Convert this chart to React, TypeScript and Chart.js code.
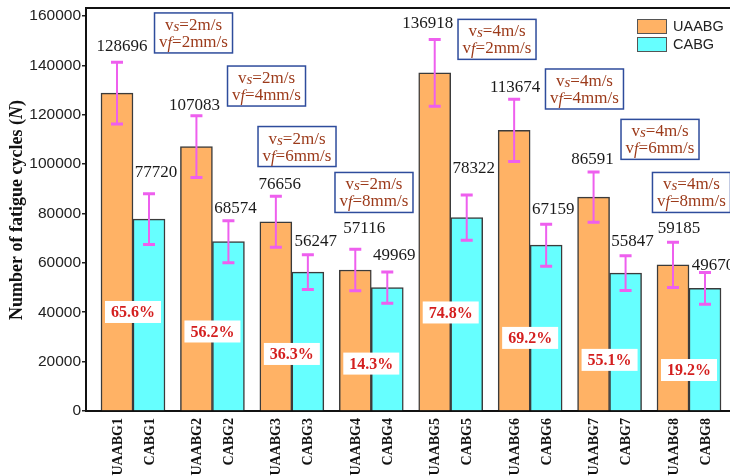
import React, { useEffect, useRef } from 'react';
import { Chart, registerables } from 'chart.js';
Chart.register(...registerables);

// ---- data ----
const groupIndex = [1, 2, 3, 4, 5, 6, 7, 8];
const uaabgLabels = ['UAABG1', 'UAABG2', 'UAABG3', 'UAABG4', 'UAABG5', 'UAABG6', 'UAABG7', 'UAABG8'];
const cabgLabels = ['CABG1', 'CABG2', 'CABG3', 'CABG4', 'CABG5', 'CABG6', 'CABG7', 'CABG8'];
const uaabgValues = [128696, 107083, 76656, 57116, 136918, 113674, 86591, 59185];
const cabgValues = [77720, 68574, 56247, 49969, 78322, 67159, 55847, 49670];
const uaabgErrors = [12500, 12500, 10300, 8400, 13500, 12600, 10200, 9200];
const cabgErrors = [10300, 8500, 7000, 6300, 9200, 8500, 7000, 6400];
const increasePct = ['65.6%', '56.2%', '36.3%', '14.3%', '74.8%', '69.2%', '55.1%', '19.2%'];
const vsValues = ['2', '2', '2', '2', '4', '4', '4', '4'];
const vfValues = ['2', '4', '6', '8', '2', '4', '6', '8'];
const yTickValues = [0, 20000, 40000, 60000, 80000, 100000, 120000, 140000, 160000];
const seriesNames = ['UAABG', 'CABG'];

// ---- layout (annotation positions) ----
const valueLabelYUaabg = [145800, 121900, 89900, 72100, 155100, 129200, 100100, 72100];
const valueLabelYCabg = [94800, 80200, 66800, 61200, 96400, 79800, 66800, 57100];
const valueLabelDxUaabg = [5, -2, 4, 9, -7, 1, -1, 6];
const valueLabelDxCabg = [7, 7, 8, 7, 7, 7, 7, 8];
const pctBoxY = [40100, 32200, 23100, 19200, 39900, 29600, 20700, 16600];
const noteBoxX = [1.762, 2.681, 3.065, 4.034, 5.583, 6.684, 7.635, 8.031];
const noteBoxY = [153100, 131600, 107100, 88500, 150500, 130400, 110000, 88500];

// ---- styles ----
const ORANGE = '#FFB265';
const CYAN = '#66FFFF';
const ERR = '#EE5FEE';
const SERIF = '"Liberation Serif", "Times New Roman", serif';
const SANS = '"Liberation Sans", Arial, sans-serif';

type Seg = { text: string; font: string; dy?: number };

function drawRich(ctx: CanvasRenderingContext2D, segs: Seg[], cx: number, baseline: number) {
  let total = 0;
  const widths: number[] = [];
  segs.forEach((s) => {
    ctx.font = s.font;
    const w = ctx.measureText(s.text).width;
    widths.push(w);
    total += w;
  });
  let x = cx - total / 2;
  ctx.textAlign = 'left';
  ctx.textBaseline = 'alphabetic';
  segs.forEach((s, i) => {
    ctx.font = s.font;
    ctx.fillText(s.text, x, baseline + (s.dy || 0));
    x += widths[i];
  });
}

const overlayPlugin = {
  id: 'overlay',
  afterDatasetsDraw(chart: any) {
    const { ctx, chartArea, scales } = chart;
    const xs = scales.x;
    const ys = scales.y;
    ctx.save();

    // top frame line
    ctx.strokeStyle = '#111';
    ctx.lineWidth = 2;
    ctx.beginPath();
    ctx.moveTo(chartArea.left - 1, chartArea.top);
    ctx.lineTo(chartArea.right + 10, chartArea.top);
    ctx.stroke();

    const series = [
      { vals: uaabgValues, errs: uaabgErrors, labY: valueLabelYUaabg, dx: valueLabelDxUaabg, names: uaabgLabels },
      { vals: cabgValues, errs: cabgErrors, labY: valueLabelYCabg, dx: valueLabelDxCabg, names: cabgLabels },
    ];

    // error bars
    series.forEach((s, d) => {
      const meta = chart.getDatasetMeta(d);
      meta.data.forEach((bar: any, i: number) => {
        const cx = bar.x;
        const yt = ys.getPixelForValue(s.vals[i] + s.errs[i]);
        const yb = ys.getPixelForValue(s.vals[i] - s.errs[i]);
        ctx.strokeStyle = ERR;
        ctx.lineWidth = 2;
        ctx.beginPath();
        ctx.moveTo(cx, yt);
        ctx.lineTo(cx, yb);
        ctx.stroke();
        ctx.lineWidth = 3;
        ctx.beginPath();
        ctx.moveTo(cx - 6, yt);
        ctx.lineTo(cx + 6, yt);
        ctx.moveTo(cx - 6, yb);
        ctx.lineTo(cx + 6, yb);
        ctx.stroke();
      });
    });

    // percentage boxes
    increasePct.forEach((p, i) => {
      const cx = xs.getPixelForValue(groupIndex[i]);
      const cy = ys.getPixelForValue(pctBoxY[i]);
      ctx.font = `bold 16px ${SERIF}`;
      const w = ctx.measureText(p).width + 12;
      const h = 22;
      ctx.fillStyle = '#ffffff';
      ctx.fillRect(cx - w / 2, cy - h / 2, w, h);
      ctx.fillStyle = '#D41F1F';
      ctx.textAlign = 'center';
      ctx.textBaseline = 'middle';
      ctx.fillText(p, cx, cy + 1);
    });

    // value labels
    series.forEach((s, d) => {
      const meta = chart.getDatasetMeta(d);
      meta.data.forEach((bar: any, i: number) => {
        ctx.font = `17px ${SERIF}`;
        ctx.fillStyle = '#1a1a1a';
        ctx.textAlign = 'center';
        ctx.textBaseline = 'alphabetic';
        ctx.fillText(String(s.vals[i]), bar.x + s.dx[i], ys.getPixelForValue(s.labY[i]));
      });
    });

    // x labels (rotated)
    series.forEach((s, d) => {
      const meta = chart.getDatasetMeta(d);
      meta.data.forEach((bar: any, i: number) => {
        ctx.save();
        ctx.translate(bar.x, chartArea.bottom + 7);
        ctx.rotate(-Math.PI / 2);
        ctx.font = `bold 14px ${SERIF}`;
        ctx.fillStyle = '#111';
        ctx.textAlign = 'right';
        ctx.textBaseline = 'middle';
        ctx.fillText(s.names[i], 0, 1);
        ctx.restore();
      });
    });

    // condition note boxes
    const bw = 78;
    const bh = 40;
    noteBoxX.forEach((nx, i) => {
      const cx = xs.getPixelForValue(nx);
      const cy = ys.getPixelForValue(noteBoxY[i]);
      const left = cx - bw / 2;
      const top = cy - bh / 2;
      ctx.fillStyle = '#ffffff';
      ctx.fillRect(left, top, bw, bh);
      ctx.strokeStyle = '#2E4C9C';
      ctx.lineWidth = 1.5;
      ctx.strokeRect(left, top, bw, bh);
      ctx.fillStyle = '#9C3A1A';
      drawRich(
        ctx,
        [
          { text: 'v', font: `17px ${SERIF}` },
          { text: 's', font: `italic 15px ${SERIF}`, dy: 1 },
          { text: `=${vsValues[i]}m/s`, font: `17px ${SERIF}` },
        ],
        cx,
        top + 17
      );
      drawRich(
        ctx,
        [
          { text: 'v', font: `17px ${SERIF}` },
          { text: 'f', font: `italic 16px ${SERIF}`, dy: 1 },
          { text: `=${vfValues[i]}mm/s`, font: `17px ${SERIF}` },
        ],
        cx,
        top + 34
      );
    });

    // legend
    const legendColors = [ORANGE, CYAN];
    seriesNames.forEach((n, i) => {
      const lx = 637;
      const ly = 19 + i * 18;
      ctx.fillStyle = legendColors[i];
      ctx.fillRect(lx, ly, 30, 15);
      ctx.strokeStyle = '#555';
      ctx.lineWidth = 1;
      ctx.strokeRect(lx + 0.5, ly + 0.5, 29, 14);
      ctx.fillStyle = '#222';
      ctx.font = `14.5px ${SANS}`;
      ctx.textAlign = 'left';
      ctx.textBaseline = 'middle';
      ctx.fillText(n, lx + 36, ly + 8);
    });

    // y axis title
    ctx.save();
    ctx.translate(22, 210);
    ctx.rotate(-Math.PI / 2);
    ctx.fillStyle = '#111';
    const tSegs: Seg[] = [
      { text: 'Number of fatigue cycles (', font: `bold 18px ${SERIF}` },
      { text: 'N', font: `bold italic 18px ${SERIF}` },
      { text: ')', font: `bold 18px ${SERIF}` },
    ];
    drawRich(ctx, tSegs, 0, 0);
    ctx.restore();

    ctx.restore();
  },
};

export default function App() {
  const canvasRef = useRef<HTMLCanvasElement | null>(null);

  useEffect(() => {
    const canvas = canvasRef.current;
    if (!canvas) return;
    const chart = new Chart(canvas, {
      type: 'bar',
      data: {
        datasets: [
          {
            label: seriesNames[0],
            data: groupIndex.map((g, i) => ({ x: g, y: uaabgValues[i] })),
            backgroundColor: ORANGE,
            borderColor: '#3b3b3b',
            borderWidth: 1.5,
            barThickness: 32,
          },
          {
            label: seriesNames[1],
            data: groupIndex.map((g, i) => ({ x: g, y: cabgValues[i] })),
            backgroundColor: CYAN,
            borderColor: '#3b3b3b',
            borderWidth: 1.5,
            barThickness: 32,
          },
        ],
      },
      options: {
        responsive: false,
        animation: false,
        devicePixelRatio: 1,
        layout: { padding: { top: 8, right: 15, left: 0, bottom: 0 } },
        plugins: {
          legend: { display: false },
          tooltip: { enabled: false },
          title: { display: false },
        },
        scales: {
          x: {
            type: 'linear',
            min: 0.4083,
            max: 8.705,
            offset: false,
            grid: { display: false },
            ticks: { display: false },
            border: { display: true, color: '#111', width: 2 },
            afterFit: (scale: any) => {
              scale.height = 65;
              scale.paddingLeft = 0;
              scale.paddingRight = 0;
            },
          },
          y: {
            type: 'linear',
            min: 0,
            max: 163200,
            afterBuildTicks: (scale: any) => {
              scale.ticks = yTickValues.map((v) => ({ value: v }));
            },
            afterFit: (scale: any) => {
              scale.width = 86;
              scale.paddingTop = 0;
              scale.paddingBottom = 0;
            },
            grid: {
              display: true,
              drawOnChartArea: false,
              drawTicks: true,
              tickLength: 4,
              color: '#222',
              lineWidth: 1.5,
            },
            border: { display: true, color: '#111', width: 2 },
            ticks: {
              color: '#222',
              padding: 1,
              font: { family: SANS, size: 15.5 },
              callback: (v: any) => String(v),
            },
          },
        },
      } as any,
      plugins: [overlayPlugin],
    });
    return () => chart.destroy();
  }, []);

  return (
    <div
      style={{
        position: 'fixed',
        left: 0,
        top: 0,
        width: 730,
        height: 476,
        overflow: 'hidden',
        background: '#ffffff',
      }}
    >
      <canvas
        ref={canvasRef}
        width={760}
        height={476}
        style={{ display: 'block', width: 760, height: 476 }}
      />
    </div>
  );
}
